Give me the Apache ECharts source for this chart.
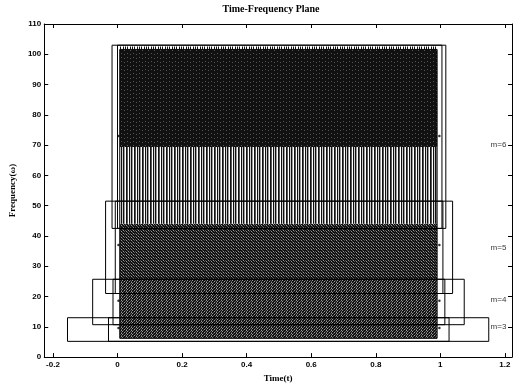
<!DOCTYPE html>
<html>
<head>
<meta charset="utf-8">
<script src="https://cdn.jsdelivr.net/npm/echarts@6/dist/echarts.min.js"></script>
<style>
  html, body { margin: 0; padding: 0; background: #fff; }
  #chart { width: 515px; height: 388px; }
</style>
</head>
<body>
<div id="chart"></div>
<script>
// axis ticks
const xTicks = [-0.2, 0, 0.2, 0.4, 0.6, 0.8, 1, 1.2];
const yTicks = [0, 10, 20, 30, 40, 50, 60, 70, 80, 90, 100, 110];

// tiling boxes per level m: [t0, t1, f0, f1]
const bandNames = ['m=3', 'm=4', 'm=5', 'm=6'];
const outerBoxes = [
  [-0.155, 1.15, 5.2, 13],
  [-0.077, 1.074, 10.7, 25.7],
  [-0.037, 1.038, 21, 51.5],
  [-0.017, 1.017, 42.5, 103]
];
const innerBoxes = [
  [-0.028, 1.027, 5.2, 13],
  [-0.014, 1.014, 10.7, 25.7],
  [-0.007, 1.008, 21, 51.5],
  [0.0, 1.005, 42.5, 103]
];
const bandCenters = [9.6, 18.6, 37, 73];
const labelT = [1.18, 1.18, 1.18, 1.18];
const labelF = [10, 19, 36, 70];

// shaded (atom) strips
const shadeT = [0.007, 0.99];
const shadeF0 = [6.2, 25.7, 44, 69.4, 101.6];
const shadeF1 = [25.7, 44, 69.4, 101.6, 102.6];

// textures for the dense atom lines
const palette = { K: '#111', k: '#222', m: '#555', g: '#999', G: '#ccc', W: '#fff' };
function pattern(rows) {
  const c = document.createElement('canvas');
  c.width = rows[0].length;
  c.height = rows.length;
  const ctx = c.getContext('2d');
  rows.forEach((r, y) => {
    for (let x = 0; x < r.length; x++) {
      ctx.fillStyle = palette[r[x]];
      ctx.fillRect(x, y, 1, 1);
    }
  });
  return { image: c, repeat: 'repeat' };
}
const textures = [
  pattern(['KgKmK', 'mKgKK', 'KmKKg']),
  pattern(['KgKKm', 'KKmKK', 'mKKgK']),
  pattern(['WKGKgWKm']),
  pattern(['KKKKKK', 'KmKKKK', 'KKKKmK', 'KKKKKK']),
  pattern(['WKWWKWK'])
];

const shadeData = shadeF0.map((f0, i) => [shadeT[0], shadeT[1], f0, shadeF1[i], i]);
const boxData = outerBoxes.concat(innerBoxes, [[shadeT[0], shadeT[1], shadeF0[0], shadeF1[3]]]);
const dotData = [];
bandCenters.forEach((f) => { dotData.push([0.003, f]); dotData.push([0.997, f]); });
const labelData = bandNames.map((n, i) => [labelT[i], labelF[i], n]);

function rectShape(api) {
  const p0 = api.coord([api.value(0), api.value(3)]);
  const p1 = api.coord([api.value(1), api.value(2)]);
  return { x: p0[0], y: p0[1], width: p1[0] - p0[0], height: p1[1] - p0[1] };
}

const tickFont = { color: '#000', fontSize: 8, fontWeight: 'bold', fontFamily: 'Liberation Sans' };
const line = { onZero: false, lineStyle: { color: '#000', width: 1 } };

const chart = echarts.init(document.getElementById('chart'));
chart.setOption({
  animation: false,
  backgroundColor: '#fff',
  title: {
    text: 'Time-Frequency Plane',
    left: 271, top: 4, padding: 0, textAlign: 'center',
    textStyle: { fontFamily: 'Liberation Serif', fontSize: 10, fontWeight: 'bold', color: '#000' }
  },
  grid: { left: 31, right: 3, top: 24, bottom: 26 },
  xAxis: [{
    type: 'value', min: -0.227, max: 1.222,
    name: 'Time(t)', nameLocation: 'middle', nameGap: 14,
    nameTextStyle: { fontFamily: 'Liberation Serif', fontSize: 9, fontWeight: 'bold', color: '#000' },
    axisLine: line,
    axisTick: { inside: true, length: 4, customValues: xTicks, lineStyle: { color: '#000' } },
    axisLabel: Object.assign({ customValues: xTicks, margin: 4, formatter: (v) => String(+v.toFixed(1)) }, tickFont),
    splitLine: { show: false }
  }, {
    type: 'value', min: -0.227, max: 1.222, position: 'top',
    axisLine: line,
    axisTick: { inside: true, length: 4, customValues: xTicks, lineStyle: { color: '#000' } },
    axisLabel: { show: false }, splitLine: { show: false }
  }],
  yAxis: [{
    type: 'value', min: 0, max: 110, interval: 10,
    name: 'Frequency(ω)', nameLocation: 'middle', nameGap: 20,
    nameTextStyle: { fontFamily: 'Liberation Serif', fontSize: 9, fontWeight: 'bold', color: '#000' },
    axisLine: line,
    axisTick: { inside: true, length: 4, lineStyle: { color: '#000' } },
    axisLabel: Object.assign({ margin: 3 }, tickFont),
    splitLine: { show: false }
  }, {
    type: 'value', min: 0, max: 110, interval: 10, position: 'right',
    axisLine: line,
    axisTick: { inside: true, length: 4, lineStyle: { color: '#000' } },
    axisLabel: { show: false }, splitLine: { show: false }
  }],
  series: [
    {
      type: 'custom',
      data: shadeData,
      encode: { x: [0, 1], y: [2, 3] },
      renderItem: (params, api) => ({
        type: 'rect',
        shape: rectShape(api),
        style: { fill: textures[api.value(4)], stroke: null }
      })
    },
    {
      type: 'custom',
      data: boxData,
      encode: { x: [0, 1], y: [2, 3] },
      z: 3,
      renderItem: (params, api) => ({
        type: 'rect',
        shape: rectShape(api),
        style: { fill: 'none', stroke: '#000', lineWidth: 1 }
      })
    },
    {
      type: 'scatter',
      data: dotData,
      symbolSize: 2.5,
      itemStyle: { color: '#000' },
      z: 4
    },
    {
      type: 'scatter',
      data: labelData,
      symbolSize: 0,
      label: {
        show: true, position: 'inside',
        formatter: (p) => p.data[2],
        color: '#000', fontSize: 8, fontFamily: 'Liberation Sans'
      }
    }
  ]
});
</script>
</body>
</html>
